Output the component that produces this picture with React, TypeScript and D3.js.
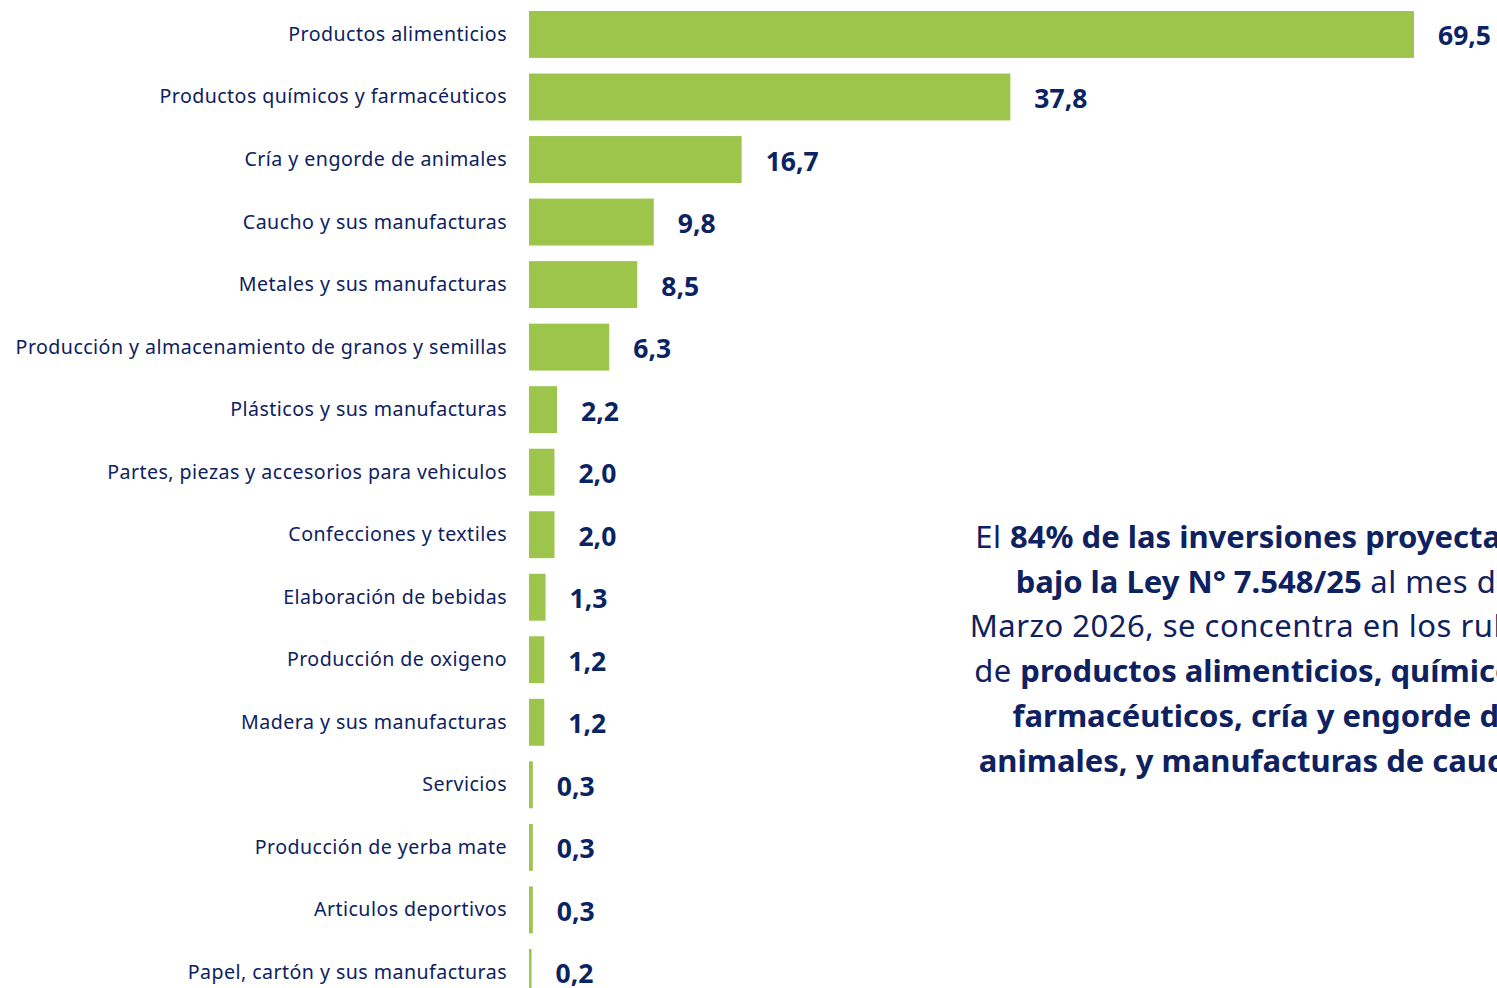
import React from 'react';
import * as d3 from 'd3';

const categories = [
  'Productos alimenticios',
  'Productos químicos y farmacéuticos',
  'Cría y engorde de animales',
  'Caucho y sus manufacturas',
  'Metales y sus manufacturas',
  'Producción y almacenamiento de granos y semillas',
  'Plásticos y sus manufacturas',
  'Partes, piezas y accesorios para vehiculos',
  'Confecciones y textiles',
  'Elaboración de bebidas',
  'Producción de oxigeno',
  'Madera y sus manufacturas',
  'Servicios',
  'Producción de yerba mate',
  'Articulos deportivos',
  'Papel, cartón y sus manufacturas',
];

const values = [69.5, 37.8, 16.7, 9.8, 8.5, 6.3, 2.2, 2.0, 2.0, 1.3, 1.2, 1.2, 0.3, 0.3, 0.3, 0.2];

// note text: each line is a list of [text, bold] pieces
const noteLines: [string, boolean][][] = [
  [['El ', false], ['84% de las inversiones proyectadas', true]],
  [['bajo la Ley N° 7.548/25', true], [' al mes de', false]],
  [['Marzo 2026, se concentra en los rubros', false]],
  [['de ', false], ['productos alimenticios, químicos y', true]],
  [['farmacéuticos, cría y engorde de', true]],
  [['animales, y manufacturas de caucho.', true]],
];

const W = 1497;
const H = 988;
const FONT = '"Noto Sans", "Open Sans", sans-serif';
const GREEN = '#9dc44b';
const NAVY = '#0e2160';
const VALUE_NAVY = '#0a2463';

export default function App() {
  const x = d3.scaleLinear().domain([0, 69.5]).range([529, 1414]);
  const y = d3
    .scaleBand<string>()
    .domain(categories)
    .range([3.2, 3.2 + 16 * 62.53])
    .paddingInner(0.25)
    .paddingOuter(0.125);

  const fmt = (v: number) => d3.format('.1f')(v).replace('.', ',');

  return (
    <svg
      width={W}
      height={H}
      style={{ position: 'fixed', left: 0, top: 0, background: '#fff' }}
      fontFamily={FONT}
    >
      <g>
        {categories.map((c, i) => {
          const yc = (y(c) ?? 0) + y.bandwidth() / 2;
          return (
            <g key={c}>
              <rect
                x={x(0)}
                y={y(c)}
                width={Math.max(x(values[i]) - x(0), 2.5)}
                height={y.bandwidth()}
                fill={GREEN}
              />
              <text
                x={507}
                y={yc - 1}
                textAnchor="end"
                dominantBaseline="central"
                fontSize={19.6}
                letterSpacing={0.45}
                fill={NAVY}
              >
                {c}
              </text>
              <text
                x={Math.max(x(values[i]), x(0) + 2.5) + 24}
                y={yc + 1}
                dominantBaseline="central"
                fontSize={26.5}
                fontWeight="bold"
                fill={VALUE_NAVY}
              >
                {fmt(values[i])}
              </text>
            </g>
          );
        })}
      </g>
      <g>
        {noteLines.map((line, i) => (
          <text
            key={i}
            x={1265}
            y={536 + i * 44.7}
            textAnchor="middle"
            dominantBaseline="central"
            fontSize={31}
            fill={NAVY}
          >
            {line.map(([t, b], j) => (
              <tspan key={j} fontWeight={b ? 'bold' : 'normal'} letterSpacing={b ? 0 : 0.5}>
                {t}
              </tspan>
            ))}
          </text>
        ))}
      </g>
    </svg>
  );
}
